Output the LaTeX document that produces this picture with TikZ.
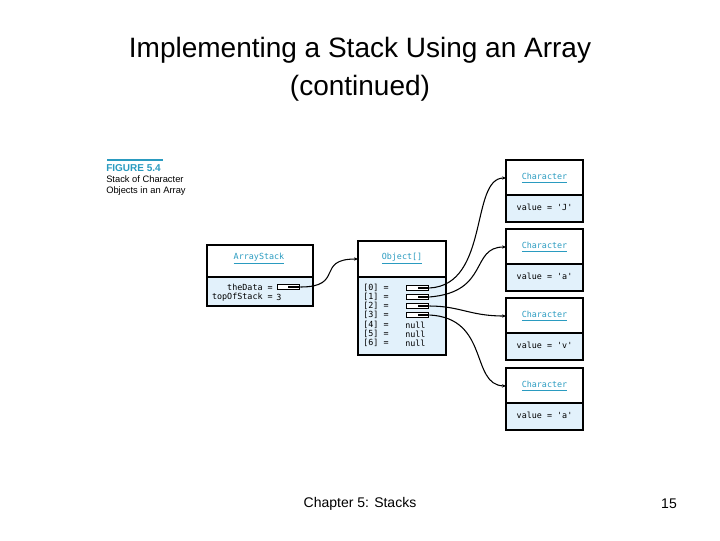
\documentclass[tikz,border=0pt]{standalone}
\usepackage{fontspec}
\setmainfont{Liberation Sans}
\setmonofont{DejaVu Sans Mono}
\usetikzlibrary{arrows.meta}
\definecolor{hd}{HTML}{2A9BC0}
\definecolor{bd}{HTML}{E2F1FB}
\begin{document}
\begin{tikzpicture}[x=0.75pt,y=-0.75pt,
  box/.style={draw,line width=1.1pt},
  hdr/.style={font=\ttfamily\fontsize{6.3}{7}\selectfont,text=hd},
  mono/.style={font=\ttfamily\fontsize{6.3}{7}\selectfont,inner sep=0pt},
  ref/.style={draw,line width=0.8pt,fill=white,minimum width=17pt,minimum height=4pt,inner sep=0pt},
  conn/.style={line width=0.8pt,-{Stealth[length=3pt,width=2.5pt]}}]
\useasboundingbox (0,0) rectangle (720,540);
\node[font=\fontsize{21}{28.5}\selectfont,align=center] (title) at (360,69) {Implementing a Stack Using an Array\\(continued)};
% caption
\draw[hd,line width=0.8pt] (107,160) -- (163,160);
\node[anchor=west,inner sep=0pt,text=hd,font=\bfseries\fontsize{7.5}{8}\selectfont] (fig) at (106,168) {FIGURE 5.4};
\node[anchor=north west,inner sep=0pt,align=left,font=\fontsize{7}{8.5}\selectfont] (cap) at (106,175) {Stack of Character\\Objects in an Array};
% ArrayStack
\fill[bd] (207,277) rectangle (313,306);
\draw[box] (207,245) rectangle (313,306);
\draw[line width=0.8pt] (207,277) -- (313,277);
\node[hdr] (ash) at (259,259) {\underline{ArrayStack}};
\node[mono,anchor=east] (td) at (273,287) {theData =};
\node[mono,anchor=east] (tos) at (273,297) {topOfStack =};
\node[mono,anchor=west] (three) at (276,297) {3};
\node[ref] (tdref) at (288.5,287) {};
\draw[line width=0.8pt] (288,287) -- (300,287);
% Object[]
\fill[bd] (358,277) rectangle (446,355);
\draw[box] (358,241) rectangle (446,355);
\draw[line width=0.8pt] (358,277) -- (446,277);
\node[hdr] (objh) at (402,259) {\underline{Object[]}};
\foreach \i/\y in {0/288,1/297,2/306,3/315,4/325,5/334,6/343}{
  \node[mono,anchor=west] (lab\i) at (363,\y) {[\i] =};
}
\foreach \i/\y in {0/288,1/297,2/306,3/315}{
  \node[ref] (r\i) at (417.5,\y) {};
  \draw[line width=0.8pt] (418,\y) -- (429,\y);
}
\foreach \i/\y in {4/325,5/334,6/343}{
  \node[mono,anchor=west] (nl\i) at (405,\y) {null};
}
% Characters
\foreach \k/\t/\v in {1/160/J,2/229/a,3/298/v,4/368/a}{
  \fill[bd] (506,\t+35) rectangle (583,\t+62);
  \draw[box] (506,\t) rectangle (583,\t+62);
  \draw[line width=0.8pt] (506,\t+35) -- (583,\t+35);
  \node[hdr] (c\k) at (544.5,\t+18) {\underline{Character}};
  \node[mono] (v\k) at (544.5,\t+47) {value = '\v'};
  \coordinate (in\k) at (506,\t+18);
}
\coordinate (objin) at (358,259);
\draw[conn] (tdref.east) .. controls (345,287) and (315,259) .. (objin);
\draw[conn] (r0.east) .. controls (490,285) and (470,178) .. (in1);
\draw[conn] (r1.east) .. controls (490,292) and (470,247) .. (in2);
\draw[conn] (r2.east) .. controls (460,306) and (470,316) .. (in3);
\draw[conn] (r3.east) .. controls (490,318) and (470,385) .. (in4);
% footer
\node[font=\fontsize{10.5}{12}\selectfont] (foot) at (360,504) {Chapter 5: Stacks};
\node[font=\fontsize{10.5}{12}\selectfont] (pg) at (669,504) {15};
\end{tikzpicture}
\end{document}
